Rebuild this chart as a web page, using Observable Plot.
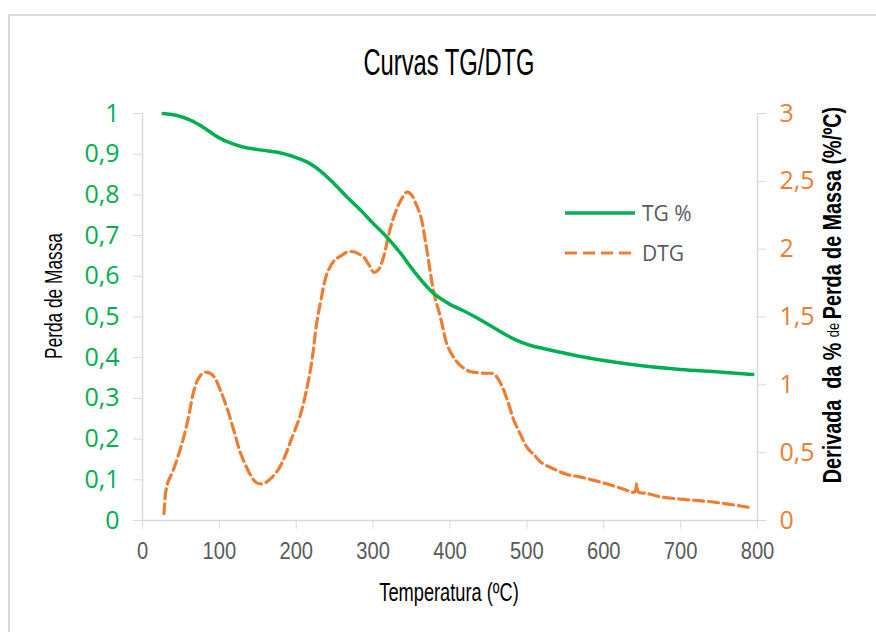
<!DOCTYPE html>
<html>
<head>
<meta charset="utf-8">
<script src="https://cdn.jsdelivr.net/npm/d3@7"></script>
<script src="https://cdn.jsdelivr.net/npm/@observablehq/plot@0.6"></script>
<style>
  html, body { margin: 0; padding: 0; background: #fff; overflow: hidden; }
  #wrap { position: relative; width: 876px; height: 632px; overflow: hidden; }
  #frame { position: absolute; left: 8px; top: 14px; width: 1000px; height: 800px; border: 2px solid #d9d9d9; box-sizing: border-box; }
  #chart { position: absolute; left: 0; top: 0; }
  #legend { position: absolute; left: 560px; top: 195px; }
</style>
</head>
<body>
<div id="wrap">
  <div id="frame"></div>
  <div id="chart"></div>
  <div id="legend"></div>
</div>
<script>
// ---- data ----
const title = "Curvas TG/DTG";
const xLabel = "Temperatura (ºC)";
const yLeftLabel = "Perda de Massa";
const yRightLabelParts = ["Derivada  da % ", "de ", "Perda de Massa (%/ºC)"];
const seriesNames = ["TG %", "DTG"];

const tgTemp = [27, 45, 63, 80, 98, 115, 132, 155, 176, 195, 215, 232, 249, 266, 284, 300, 318, 336, 350, 365, 380, 400, 420, 436, 455, 475, 490, 505, 530, 570, 600, 650, 700, 750, 794];
const tgMass = [1.0, 0.995, 0.983, 0.965, 0.942, 0.927, 0.917, 0.91, 0.905, 0.895, 0.88, 0.858, 0.828, 0.795, 0.762, 0.73, 0.696, 0.656, 0.62, 0.585, 0.556, 0.531, 0.513, 0.497, 0.476, 0.454, 0.44, 0.43, 0.419, 0.403, 0.393, 0.38, 0.371, 0.365, 0.359];

const dtgTemp = [28, 30, 33, 40, 46, 53, 59, 67, 73, 80, 86, 93, 102, 111, 120, 128, 141, 148, 156, 165, 176, 185, 193, 206, 219, 227, 232, 240, 250, 258, 267, 275, 283, 288, 295, 301, 307, 314, 320, 327, 336, 344, 350, 356, 362, 370, 379, 388, 396, 405, 414, 425, 435, 446, 457, 466, 475, 483, 492, 500, 510, 518, 535, 552, 570, 591, 610, 626, 640, 643, 645, 656, 673, 699, 720, 740, 760, 780, 794];
const dtgRate = [0.05, 0.2, 0.28, 0.37, 0.47, 0.6, 0.74, 0.96, 1.05, 1.09, 1.09, 1.06, 0.95, 0.81, 0.64, 0.49, 0.33, 0.28, 0.27, 0.3, 0.37, 0.47, 0.59, 0.79, 1.13, 1.47, 1.62, 1.82, 1.92, 1.95, 1.98, 1.98, 1.96, 1.94, 1.88, 1.83, 1.85, 1.95, 2.1, 2.24, 2.36, 2.42, 2.4, 2.33, 2.24, 1.99, 1.68, 1.49, 1.3, 1.2, 1.14, 1.1, 1.09, 1.085, 1.08, 1.01, 0.88, 0.74, 0.63, 0.54, 0.48, 0.43, 0.38, 0.34, 0.32, 0.29, 0.26, 0.23, 0.21, 0.27, 0.21, 0.2, 0.175, 0.158, 0.148, 0.138, 0.122, 0.105, 0.092];

const xTicks = [0, 100, 200, 300, 400, 500, 600, 700, 800];
const leftTicks = [0, 0.1, 0.2, 0.3, 0.4, 0.5, 0.6, 0.7, 0.8, 0.9, 1];
const rightTicks = [0, 0.5, 1, 1.5, 2, 2.5, 3];
const rightMax = 3;

// ---- build ----
const green = "#00b050", orange = "#ed7d31", axisGray = "#d9d9d9", textGray = "#595959";
const sans = "'Liberation Sans', Arial, sans-serif";
const fmt = v => String(Math.round(v * 10) / 10).replace(".", ",");

const tg = tgTemp.map((t, i) => ({t, v: tgMass[i]}));
const dtg = dtgTemp.map((t, i) => ({t, v: dtgRate[i] / rightMax}));

const chart = Plot.plot({
  width: 876, height: 632,
  marginTop: 113, marginBottom: 112, marginLeft: 142, marginRight: 119,
  style: {fontFamily: "'Open Sans', sans-serif", background: "transparent", overflow: "visible"},
  x: {domain: [0, 800]},
  y: {domain: [0, 1]},
  marks: [
    Plot.ruleY([0], {stroke: axisGray, strokeWidth: 1.5}),
    Plot.ruleX([0], {stroke: axisGray, strokeWidth: 1.5}),
    Plot.ruleX([800], {stroke: axisGray, strokeWidth: 1.5}),
    Plot.axisX(xTicks, {anchor: "bottom", tickSize: 9, tickPadding: 12, stroke: axisGray, fill: textGray, fontSize: 24, fontFamily: sans, label: null, tickFormat: d => String(d)}),
    Plot.axisY(leftTicks, {anchor: "left", tickSize: 9, tickPadding: 14, stroke: axisGray, fill: green, fontSize: 25, label: null, tickFormat: fmt}),
    Plot.axisY(rightTicks.map(v => v / rightMax), {anchor: "right", tickSize: 8, tickPadding: 14, stroke: axisGray, fill: orange, fontSize: 25, label: null, tickFormat: d => fmt(d * rightMax)}),
    Plot.line(dtg, {x: "t", y: "v", stroke: orange, strokeWidth: 3.2, strokeDasharray: "10,5", curve: "catmull-rom"}),
    Plot.line(tg, {x: "t", y: "v", stroke: green, strokeWidth: 3.5, curve: "catmull-rom"})
  ]
});
document.getElementById("chart").append(chart);

const svg = d3.select(chart);
// condense the x tick labels a little
svg.selectAll('g[aria-label="x-axis tick label"] text').each(function() {
  const t = d3.select(this);
  t.attr("transform", (t.attr("transform") || "") + " scale(0.84,1)");
});

// condensed titles (scaled Liberation Sans)
function label(parts, x, y, rot, sx, size) {
  const el = svg.append("text")
    .attr("transform", `translate(${x},${y}) rotate(${rot}) scale(${sx},1)`)
    .attr("text-anchor", "middle")
    .attr("dominant-baseline", "central")
    .attr("font-family", sans)
    .attr("font-size", size)
    .attr("fill", "#000");
  parts.forEach(p => {
    const ts = el.append("tspan").text(p.text);
    if (p.bold) ts.attr("font-weight", "bold");
    if (p.size) ts.attr("font-size", p.size);
  });
  return el;
}
label([{text: title}], 449, 62, 0, 0.66, 36);
label([{text: xLabel}], 449, 592, 0, 0.73, 25);
label([{text: yLeftLabel}], 53, 296, -90, 0.72, 24);
label([
  {text: yRightLabelParts[0], bold: true},
  {text: yRightLabelParts[1], size: 17},
  {text: yRightLabelParts[2], bold: true}
], 832, 295, -90, 0.76, 26);

// legend
const leg = d3.select("#legend").append("svg").attr("width", 160).attr("height", 80);
const styles = [{stroke: green, dash: null, w: 3.5}, {stroke: orange, dash: "12,6", w: 3.2}];
seriesNames.forEach((name, i) => {
  const y = 18 + i * 40;
  leg.append("line").attr("x1", 5).attr("x2", 75).attr("y1", y).attr("y2", y)
    .attr("stroke", styles[i].stroke).attr("stroke-width", styles[i].w)
    .attr("stroke-dasharray", styles[i].dash);
  leg.append("text").attr("x", 82).attr("y", y).attr("dominant-baseline", "central")
    .attr("font-family", "'Open Sans', sans-serif").attr("font-size", 21).attr("fill", textGray).text(name);
});
</script>
</body>
</html>
